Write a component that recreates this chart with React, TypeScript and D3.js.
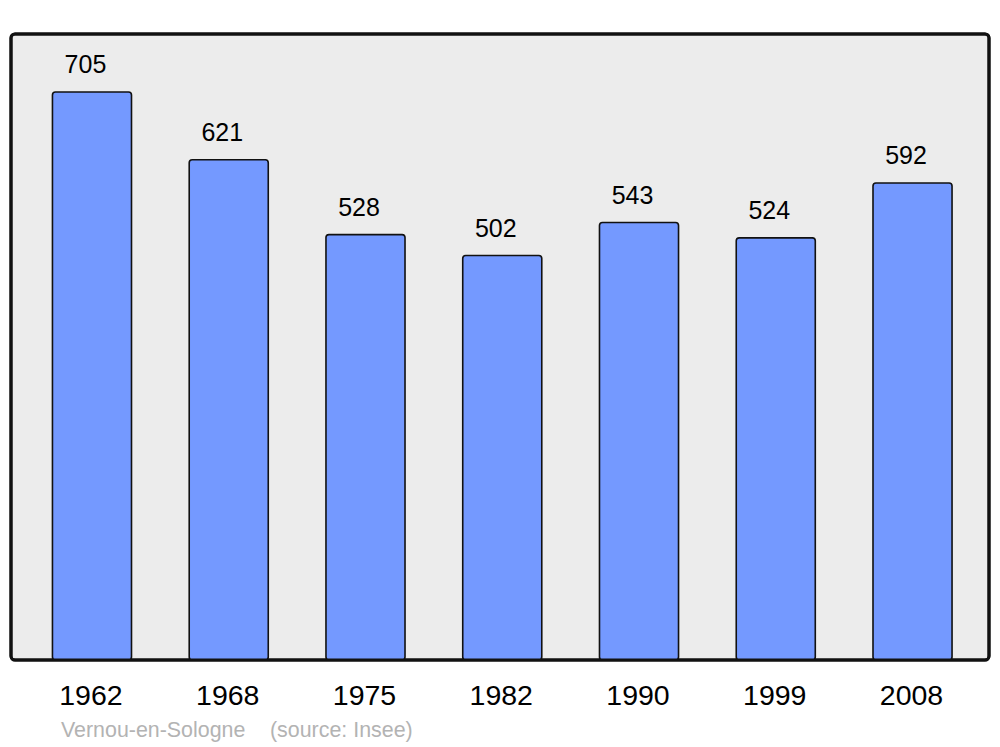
import React from "react";
import * as d3 from "d3";

const years = ["1962", "1968", "1975", "1982", "1990", "1999", "2008"];
const population = [705, 621, 528, 502, 543, 524, 592];
const title = "Vernou-en-Sologne";
const source = "(source: Insee)";

export default function App() {
  const W = 1000, H = 747;
  const x = d3.scaleBand<string>().domain(years).range([23.6, 980.9]).paddingInner(0.422).paddingOuter(0.211);
  const y = d3.scaleLinear().domain([0, 777]).range([660, 34]);
  const font = "'Liberation Sans', Arial, sans-serif";
  return (
    <svg width={W} height={H} style={{ position: "absolute", left: 0, top: 0 }} fontFamily={font}>
      <rect x={0} y={0} width={W} height={H} fill="#fff" />
      <rect x={11} y={34} width={978} height={626} rx={4} ry={4} fill="#ececec" stroke="#111" strokeWidth={3} />
      {years.map((yr, i) => {
        const v = population[i];
        const bx = x(yr)!;
        const bw = x.bandwidth();
        return (
          <g key={yr}>
            <rect x={bx} y={y(v)} width={bw} height={y(0) - y(v)} rx={3} ry={3} fill="#7499ff" stroke="#111" strokeWidth={1.6} />
            <text x={bx + bw / 2 - 6.5} y={y(v) - 19} textAnchor="middle" fontSize={25} fill="#000">{v}</text>
            <text x={bx + bw / 2 - 1} y={705} textAnchor="middle" fontSize={28.5} fill="#000">{yr}</text>
          </g>
        );
      })}
      <rect x={11} y={34} width={978} height={626} rx={4} ry={4} fill="none" stroke="#111" strokeWidth={3} />
      <text x={61} y={737} fontSize={21.4} fill="#b3b3b3">{title}</text>
      <text x={270} y={737} fontSize={21.4} fill="#b3b3b3">{source}</text>
    </svg>
  );
}
